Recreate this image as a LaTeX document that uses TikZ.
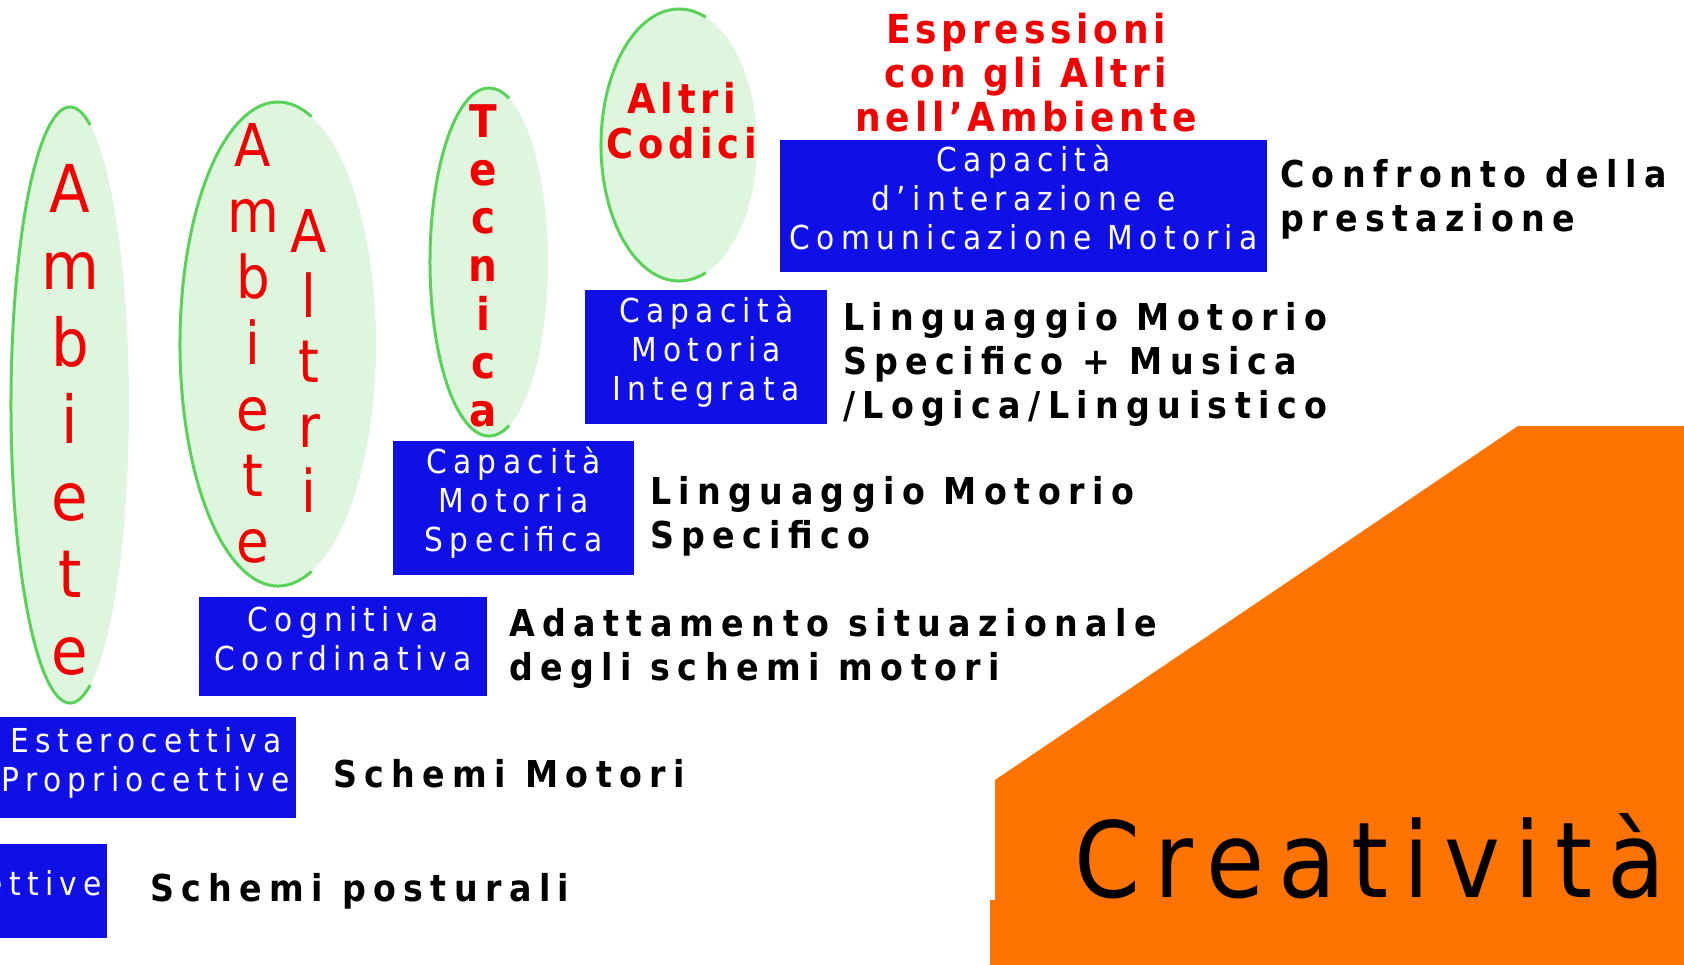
\documentclass[tikz,border=0pt]{standalone}
\usepackage{fontspec}
\setmainfont{DejaVu Sans Condensed}
\definecolor{boxblue}{RGB}{16,16,230}
\definecolor{creaorange}{RGB}{255,115,0}
\definecolor{leafgreen}{RGB}{90,210,90}
\definecolor{titlered}{RGB}{240,0,0}
\begin{document}
\begin{tikzpicture}[x=1pt,y=-1pt,
  box/.style={fill=boxblue,text=white,inner sep=0pt,align=center,text depth=18pt,
    font=\fontsize{33}{39}\selectfont\addfontfeature{LetterSpace=19}},
  lbl/.style={text=black,inner sep=0pt,align=left,anchor=north west,
    font=\fontsize{37}{44}\selectfont\bfseries\addfontfeature{LetterSpace=20}},
  leaf/.style={fill=leafgreen!20},
  rim/.style={draw=leafgreen,line width=3pt},
  vert/.style={text=titlered,inner sep=0pt,align=center,anchor=north}]
\useasboundingbox (0,0) rectangle (1684,965);
%\draw[step=100,very thin,color=gray] (0,0) grid (1684,965);
\fill[creaorange] (1518,426) -- (1684,426) -- (1684,965) -- (990,965) -- (990,900) -- (995,900) -- (995,780) -- cycle;
\fill[leaf] (70,405) ellipse [x radius=59, y radius=298];
\draw[rim] (70,405) ++(70:59 and 298) arc[start angle=70, end angle=290, x radius=59, y radius=298];
\fill[leaf] (278,344) ellipse [x radius=98, y radius=242];
\draw[rim] (278,344) ++(70:98 and 242) arc[start angle=70, end angle=290, x radius=98, y radius=242];
\fill[leaf] (489,262) ellipse [x radius=59, y radius=174];
\draw[rim] (489,262) ++(70:59 and 174) arc[start angle=70, end angle=290, x radius=59, y radius=174];
\fill[leaf] (679,145) ellipse [x radius=78, y radius=136];
\draw[rim] (679,145) ++(70:78 and 136) arc[start angle=70, end angle=290, x radius=78, y radius=136];
\node[vert, font=\fontsize{66}{77}\selectfont] (amb1) at (70,164) {A\\m\\b\\i\\e\\t\\e};
\node[vert, font=\fontsize{59}{66}\selectfont] (amb2) at (253,123) {A\\m\\b\\i\\e\\t\\e};
\node[vert, font=\fontsize{59}{65}\selectfont] (altri) at (309,209) {A\\l\\t\\r\\i};
\node[vert, font=\fontsize{45}{48.3}\selectfont\bfseries] (tecn) at (483,104) {T\\e\\c\\n\\i\\c\\a};
\node[vert, font=\fontsize{41}{45}\selectfont\bfseries\addfontfeature{LetterSpace=12}] (codici) at (682,82) {Altri\\Codici};
\node[vert, font=\fontsize{40}{44}\selectfont\bfseries\addfontfeature{LetterSpace=12}] (expr) at (1026,13) {Espressioni\\con gli Altri\\nell’Ambiente};
\node[box, anchor=north west, minimum width=487, minimum height=132, text height=104pt] (comu) at (780,140) {Capacità\\d’interazione e\\Comunicazione Motoria};
\node[box, anchor=north west, minimum width=242, minimum height=134, text height=104pt] (integ) at (585,290) {Capacità\\Motoria\\Integrata};
\node[box, anchor=north west, minimum width=241, minimum height=134, text height=104pt] (spec) at (393,441) {Capacità\\Motoria\\Specifica};
\node[box, anchor=north west, minimum width=288, minimum height=99, text height=65pt] (cogn) at (199,597) {Cognitiva\\Coordinativa};
\node[box, anchor=north east, minimum width=300, minimum height=101, text height=65pt] (este) at (296,717) {Esterocettiva\\Propriocettive};
\node[box, anchor=north east, minimum height=94, text height=26pt, text width=121, align=right, inner xsep=5pt] (ettv) at (107,844) {ettive};
\node[lbl] (conf) at (1280,159) {Confronto della\\prestazione};
\node[lbl] (ling2) at (843,302) {Linguaggio Motorio\\Specifico + Musica\\/Logica/Linguistico};
\node[lbl] (ling1) at (650,476) {Linguaggio Motorio\\Specifico};
\node[lbl] (adat) at (509,608) {Adattamento situazionale\\degli schemi motori};
\node[lbl] (schm) at (333,759) {Schemi Motori};
\node[lbl] (post) at (150,873) {Schemi posturali};
\node[anchor=base west, inner sep=0pt, font=\fontsize{105}{105}\selectfont\addfontfeature{LetterSpace=14}] (crea) at (1074,897) {Creatività};
\end{tikzpicture}
\end{document}
